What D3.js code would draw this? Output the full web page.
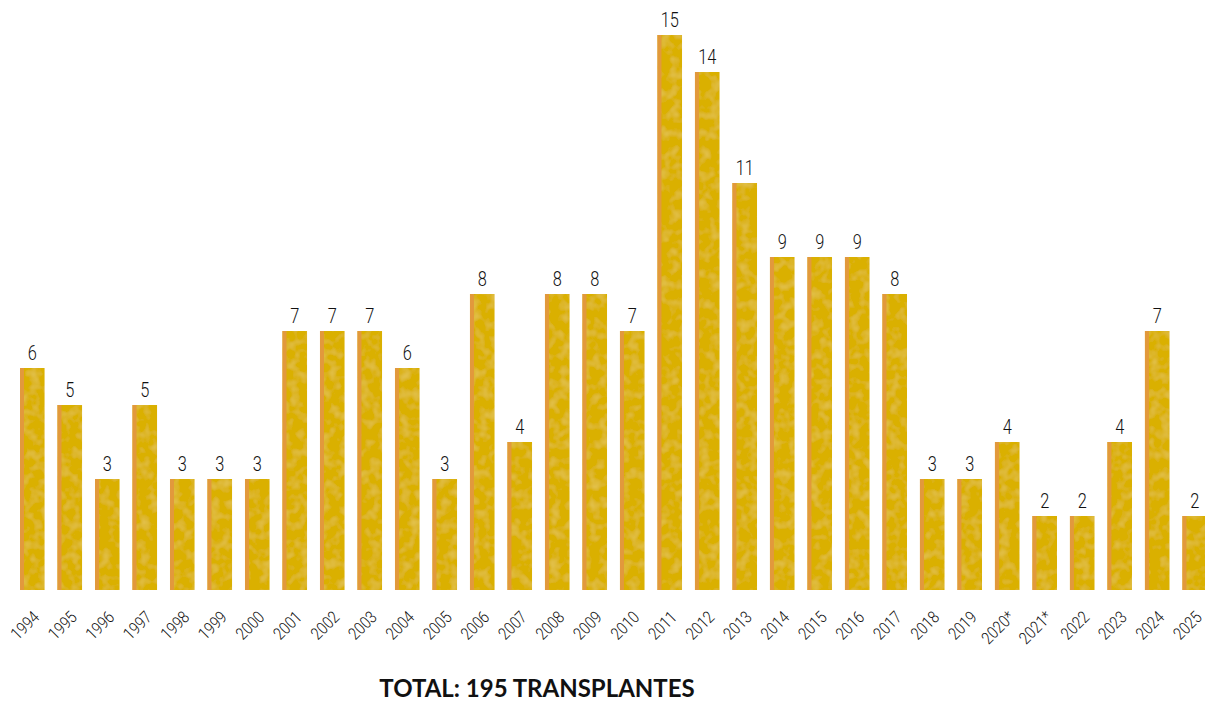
<!DOCTYPE html>
<meta charset="utf-8">
<style>
body { margin: 0; background: #fff; }
.value { font-family: Roboto, "DejaVu Sans", sans-serif; font-weight: 300; font-size: 21px; fill: #111; }
.year { font-family: Roboto, "DejaVu Sans", sans-serif; font-weight: 300; font-size: 17px; fill: #111; }
.total { font-family: Lato, "Open Sans", sans-serif; font-weight: bold; font-size: 24px; fill: #111; }
</style>
<svg width="1205" height="701"></svg>
<script src="https://d3js.org/d3.v7.min.js"></script>
<script>

var years = ["1994","1995","1996","1997","1998","1999","2000","2001","2002","2003",
             "2004","2005","2006","2007","2008","2009","2010","2011","2012","2013",
             "2014","2015","2016","2017","2018","2019","2020*","2021*","2022","2023",
             "2024","2025"];
var transplants = [6,5,3,5,3,3,3,7,7,7,6,3,8,4,8,8,7,15,14,11,9,9,9,8,3,3,4,2,2,4,7,2];
var totalLabel = "TOTAL: 195 TRANSPLANTES";

var svg = d3.select("svg");

var x = d3.scaleBand()
    .domain(years)
    .range([20, 1207])
    .paddingInner(0.345)
    .paddingOuter(0);

var y = d3.scaleLinear()
    .domain([0, 15])
    .range([590, 35]);

// faint mottled texture for the bars
var defs = svg.append("defs");
var f = defs.append("filter").attr("id", "mottle")
    .attr("x", 0).attr("y", 0).attr("width", 1).attr("height", 1);
f.append("feTurbulence").attr("type", "fractalNoise")
    .attr("baseFrequency", 0.1).attr("numOctaves", 2).attr("seed", 7).attr("result", "noise");
f.append("feColorMatrix").attr("in", "noise").attr("type", "matrix")
    .attr("values", "0 0 0 0 0.93  0 0 0 0 0.79  0 0 0 0 0.25  0 0 0 0.6 -0.28")
    .attr("result", "spots");
f.append("feComposite").attr("in", "spots").attr("in2", "SourceGraphic").attr("operator", "in").attr("result", "clipped");
f.append("feMerge").call(function(m) {
  m.append("feMergeNode").attr("in", "SourceGraphic");
  m.append("feMergeNode").attr("in", "clipped");
});

var data = years.map(function(d, i) { return {year: d, value: transplants[i]}; });

var bars = svg.append("g").selectAll("g")
    .data(data)
    .enter().append("g");

bars.append("rect")
    .attr("x", function(d) { return x(d.year); })
    .attr("y", function(d) { return y(d.value); })
    .attr("width", x.bandwidth())
    .attr("height", function(d) { return y(0) - y(d.value); })
    .attr("fill", "#DAB003")
    .attr("filter", "url(#mottle)");

bars.append("rect")
    .attr("x", function(d) { return x(d.year); })
    .attr("y", function(d) { return y(d.value); })
    .attr("width", 4)
    .attr("height", function(d) { return y(0) - y(d.value); })
    .attr("fill", "#E2993C");

bars.append("text")
    .attr("class", "value")
    .attr("text-anchor", "middle")
    .attr("transform", function(d) {
      return "translate(" + (x(d.year) + x.bandwidth() / 2) + "," + (y(d.value) - 8) + ") scale(0.78,1)";
    })
    .text(function(d) { return d.value; });

// rotated year labels
svg.append("g").selectAll("text")
    .data(data)
    .enter().append("text")
    .attr("class", "year")
    .attr("text-anchor", "end")
    .attr("transform", function(d) {
      return "translate(" + (x(d.year) + x.bandwidth() / 2 + 1) + ",611) rotate(-45) scale(0.85,1)";
    })
    .attr("dy", "0.6em")
    .text(function(d) { return d.year; });

svg.append("text")
    .attr("class", "total")
    .attr("x", 537)
    .attr("y", 697)
    .attr("text-anchor", "middle")
    .text(totalLabel);

</script>
